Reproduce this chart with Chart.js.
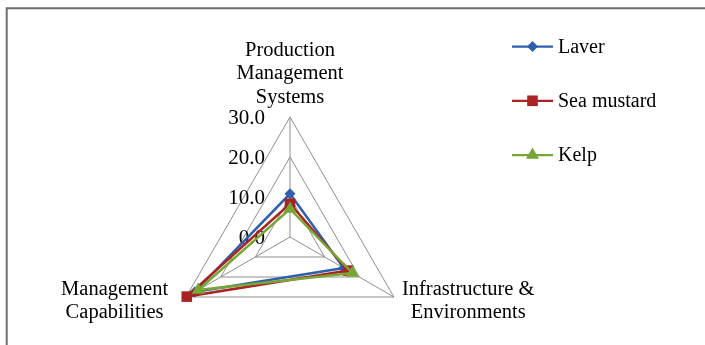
<!DOCTYPE html>
<html>
<head>
<meta charset="utf-8">
<script src="https://cdn.jsdelivr.net/npm/chart.js@4/dist/chart.umd.min.js"></script>
<style>
  html, body { margin: 0; padding: 0; background: #ffffff; }
  #wrap { position: relative; width: 705px; height: 345px; }
</style>
</head>
<body>
<div id="wrap"><canvas id="chart"></canvas></div>
<script>
// Radar axes (clockwise from the top), each split into display lines
const axisLabels = [
  ['Production', 'Management', 'Systems'],
  ['Infrastructure &', 'Environments'],
  ['Management', 'Capabilities']
];
const seriesNames = ['Laver', 'Sea mustard', 'Kelp'];
const laver = [10.8, 15.5, 27.5];
const seaMustard = [8.3, 16.8, 29.8];
const kelp = [7.0, 18.0, 26.5];
const tickValues = [0, 10, 20, 30];
const tickLabels = ['0.0', '10.0', '20.0', '30.0'];

const FONT = '"Liberation Serif", "Times New Roman", serif';
const colors = ['#2F5FAF', '#AA2323', '#78A632'];
const markers = [
  { style: 'rectRot', radius: 5.5 },
  { style: 'rect', radius: 7.5 },
  { style: 'triangle', radius: 7.5 }
];

// Frame, axis value labels, axis names and the legend
const decorations = {
  id: 'decorations',
  beforeDraw(chart) {
    const ctx = chart.ctx;
    ctx.save();
    ctx.strokeStyle = '#6e6e6e';
    ctx.lineWidth = 2;
    ctx.beginPath();
    ctx.moveTo(6.7, 345);
    ctx.lineTo(6.7, 8.3);
    ctx.lineTo(705, 8.3);
    ctx.stroke();
    ctx.restore();
  },
  beforeDatasetsDraw(chart) {
    const ctx = chart.ctx;
    const r = chart.scales.r;
    ctx.save();
    ctx.fillStyle = '#000';
    ctx.font = '21px ' + FONT;
    // value labels to the left of the top axis
    ctx.textAlign = 'right';
    ctx.textBaseline = 'middle';
    tickValues.forEach((v, i) => {
      const d = r.getDistanceFromCenterForValue(v);
      ctx.fillText(tickLabels[i], r.xCenter - 25, r.yCenter - d + 1.5);
    });
    // axis names
    ctx.font = '20.5px ' + FONT;
    const lineH = 23.5;
    ctx.textAlign = 'center';
    axisLabels.forEach((lines, i) => {
      const p = r.getPointPosition(i, r.drawingArea);
      const w = Math.max(...lines.map(t => ctx.measureText(t).width));
      let cx, top;
      if (i === 0) {
        cx = p.x;
        top = p.y - 8 - lineH * lines.length;
      } else if (p.x > r.xCenter) {
        cx = p.x + 8 + w / 2;
        top = p.y + 4 - lineH * lines.length / 2;
      } else {
        cx = p.x - 18 - w / 2;
        top = p.y + 4 - lineH * lines.length / 2;
      }
      lines.forEach((t, k) => ctx.fillText(t, cx, top + lineH * (k + 0.5)));
    });
    ctx.restore();
  },
  afterDraw(chart) {
    const ctx = chart.ctx;
    ctx.save();
    ctx.font = '20px ' + FONT;
    ctx.textAlign = 'left';
    ctx.textBaseline = 'middle';
    chart.data.datasets.forEach((ds, i) => {
      const y = 46.5 + i * 54.3;
      ctx.strokeStyle = ds.borderColor;
      ctx.lineWidth = 2.25;
      ctx.beginPath();
      ctx.moveTo(512, y);
      ctx.lineTo(553, y);
      ctx.stroke();
      ctx.fillStyle = ds.borderColor;
      Chart.helpers.drawPoint(ctx, {
        pointStyle: ds.pointStyle,
        radius: ds.pointRadius,
        borderWidth: 0,
        rotation: 0
      }, 532.5, y);
      ctx.fillStyle = '#000';
      ctx.fillText(ds.label, 558, y + 1);
    });
    ctx.restore();
  }
};

const seriesValues = [laver, seaMustard, kelp];

new Chart(document.getElementById('chart'), {
  type: 'radar',
  data: {
    labels: axisLabels.map(l => l.join(' ')),
    datasets: seriesValues.map((vals, i) => ({
      label: seriesNames[i],
      data: vals,
      borderColor: colors[i],
      backgroundColor: colors[i],
      pointBackgroundColor: colors[i],
      pointBorderColor: colors[i],
      pointBorderWidth: 0,
      pointStyle: markers[i].style,
      pointRadius: markers[i].radius,
      pointHoverRadius: markers[i].radius,
      borderWidth: 2.5,
      fill: false,
      tension: 0,
      order: seriesValues.length - i
    }))
  },
  options: {
    responsive: true,
    maintainAspectRatio: false,
    animation: false,
    devicePixelRatio: 1,
    plugins: {
      legend: { display: false },
      tooltip: { enabled: false }
    },
    scales: {
      r: {
        min: 0,
        max: 30,
        ticks: { stepSize: 10, display: false },
        pointLabels: { display: false },
        grid: { color: '#8f8f8f', lineWidth: 1 },
        angleLines: { color: '#8f8f8f', lineWidth: 1 },
        afterFit(scale) {
          scale.xCenter = 290;
          scale.yCenter = 237;
          scale.drawingArea = 120;
        }
      }
    }
  },
  plugins: [decorations]
});
</script>
</body>
</html>
